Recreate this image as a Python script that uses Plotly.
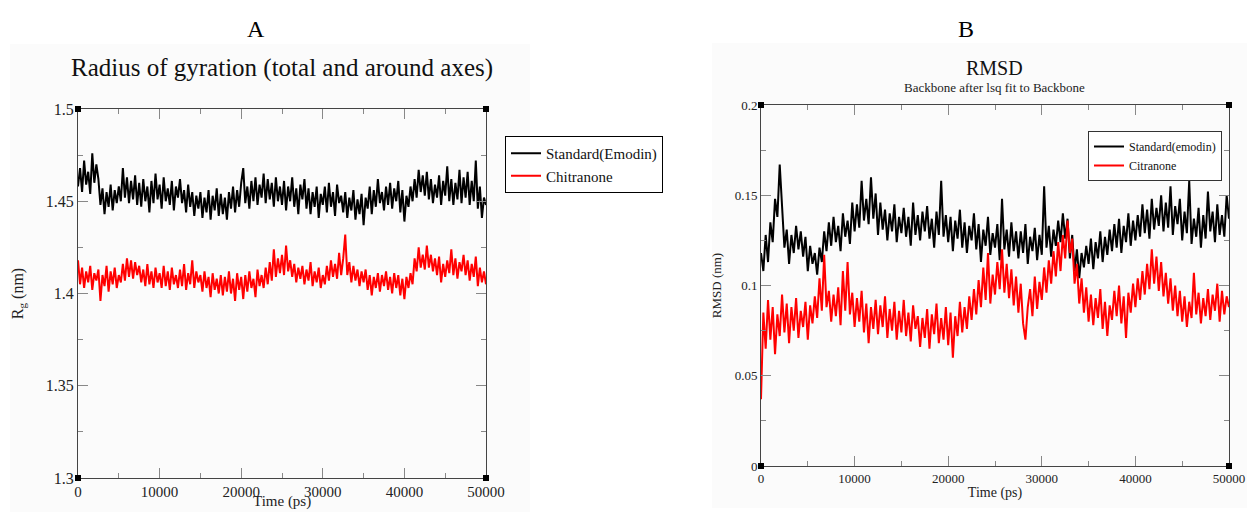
import plotly.graph_objects as go

# ---------------- data ----------------
time_ps = list(range(0, 50001, 250))

rg_standard = [
    1.458, 1.468, 1.455, 1.472, 1.459, 1.466, 1.454, 1.476, 1.460, 1.470,
    1.462, 1.448, 1.457, 1.443, 1.455, 1.447, 1.459, 1.445, 1.456, 1.449,
    1.458, 1.450, 1.468, 1.452, 1.463, 1.449, 1.461, 1.451, 1.464, 1.448,
    1.460, 1.447, 1.462, 1.450, 1.458, 1.444, 1.461, 1.449, 1.465, 1.451,
    1.459, 1.446, 1.463, 1.450, 1.457, 1.448, 1.461, 1.445, 1.458, 1.452,
    1.462, 1.449, 1.456, 1.444, 1.459, 1.447, 1.455, 1.442, 1.453, 1.446,
    1.455, 1.441, 1.452, 1.444, 1.456, 1.440, 1.453, 1.445, 1.457, 1.442,
    1.454, 1.443, 1.452, 1.440, 1.455, 1.446, 1.458, 1.444, 1.456, 1.447,
    1.460, 1.468, 1.449, 1.458, 1.446, 1.461, 1.450, 1.463, 1.448, 1.459,
    1.452, 1.465, 1.449, 1.462, 1.451, 1.460, 1.447, 1.463, 1.450, 1.458,
    1.448, 1.461, 1.445, 1.458, 1.450, 1.463, 1.447, 1.457, 1.443, 1.459,
    1.451, 1.462, 1.446, 1.457, 1.443, 1.455, 1.447, 1.458, 1.441, 1.454,
    1.448, 1.458, 1.444, 1.460, 1.447, 1.455, 1.442, 1.459, 1.449, 1.453,
    1.444, 1.455, 1.441, 1.452, 1.445, 1.456, 1.440, 1.451, 1.443, 1.454,
    1.437, 1.452, 1.446, 1.458, 1.443, 1.456, 1.447, 1.462, 1.449, 1.455,
    1.445, 1.458, 1.448, 1.460, 1.446, 1.457, 1.450, 1.461, 1.444, 1.456,
    1.439, 1.453, 1.447, 1.458, 1.450, 1.462, 1.452, 1.467, 1.455, 1.464,
    1.453, 1.466, 1.451, 1.462, 1.449, 1.459, 1.452, 1.464, 1.448, 1.461,
    1.453, 1.469, 1.450, 1.462, 1.448, 1.460, 1.451, 1.467, 1.449, 1.463,
    1.452, 1.466, 1.448, 1.461, 1.450, 1.472, 1.446, 1.458, 1.441, 1.452,
    1.448,
]

rg_chitranone = [
    1.418, 1.405, 1.414, 1.403, 1.412, 1.406, 1.415, 1.402, 1.411, 1.407,
    1.413, 1.396, 1.410, 1.404, 1.415, 1.401, 1.412, 1.405, 1.414, 1.403,
    1.410, 1.406, 1.416, 1.407, 1.419, 1.409, 1.418, 1.408, 1.417, 1.410,
    1.415, 1.406, 1.413, 1.404, 1.416, 1.405, 1.412, 1.403, 1.414, 1.406,
    1.411, 1.403, 1.415, 1.404, 1.412, 1.402, 1.414, 1.405, 1.410, 1.403,
    1.413, 1.404, 1.416, 1.402, 1.411, 1.405, 1.418, 1.403, 1.412, 1.406,
    1.410, 1.401, 1.412, 1.403, 1.409, 1.398, 1.411, 1.402, 1.408, 1.400,
    1.410, 1.399, 1.409, 1.401, 1.412, 1.400, 1.408, 1.396, 1.411, 1.402,
    1.409, 1.397, 1.410, 1.401, 1.412, 1.403, 1.408, 1.398, 1.413, 1.404,
    1.410, 1.403, 1.414, 1.405, 1.417, 1.407, 1.424, 1.409, 1.419, 1.411,
    1.421, 1.410, 1.426, 1.412, 1.418, 1.409, 1.416, 1.406, 1.414, 1.408,
    1.415, 1.405, 1.413, 1.407, 1.417, 1.404, 1.412, 1.406, 1.414, 1.403,
    1.410, 1.405, 1.415, 1.407, 1.418, 1.409, 1.416, 1.408, 1.422, 1.410,
    1.419, 1.432, 1.410, 1.417, 1.406, 1.415, 1.407, 1.413, 1.404, 1.412,
    1.406, 1.413, 1.402, 1.410, 1.399, 1.409, 1.403, 1.411, 1.401, 1.410,
    1.404, 1.412, 1.402, 1.409, 1.400, 1.411, 1.403, 1.410, 1.399, 1.408,
    1.397, 1.409, 1.403, 1.411, 1.405, 1.419, 1.412, 1.425, 1.414, 1.421,
    1.413, 1.426, 1.414, 1.421, 1.412, 1.419, 1.410, 1.420, 1.406, 1.416,
    1.409, 1.418, 1.411, 1.424, 1.410, 1.419, 1.408, 1.417, 1.412, 1.421,
    1.410, 1.418, 1.407, 1.416, 1.409, 1.420, 1.404, 1.414, 1.406, 1.412,
    1.405,
]

rmsd_standard = [
    0.118, 0.108, 0.128, 0.113, 0.135, 0.124, 0.148, 0.138, 0.167, 0.140,
    0.121, 0.131, 0.112, 0.128, 0.118, 0.133, 0.120, 0.130, 0.116, 0.127,
    0.108, 0.122, 0.112, 0.118, 0.106, 0.121, 0.113, 0.130, 0.119, 0.135,
    0.122, 0.138, 0.124, 0.133, 0.119, 0.140, 0.127, 0.136, 0.123, 0.146,
    0.130, 0.145, 0.132, 0.158, 0.136, 0.148, 0.134, 0.160, 0.137, 0.151,
    0.128, 0.146, 0.131, 0.142, 0.125, 0.140, 0.130, 0.145, 0.124, 0.138,
    0.129, 0.143, 0.127, 0.138, 0.122, 0.146, 0.128, 0.139, 0.125, 0.141,
    0.130, 0.144, 0.126, 0.137, 0.121, 0.141, 0.128, 0.158, 0.127, 0.139,
    0.124, 0.138, 0.119, 0.136, 0.126, 0.142, 0.121, 0.135, 0.118, 0.133,
    0.125, 0.140, 0.120, 0.134, 0.113, 0.131, 0.122, 0.138, 0.117, 0.129,
    0.121, 0.134, 0.114, 0.148, 0.120, 0.131, 0.116, 0.135, 0.119, 0.130,
    0.115, 0.130, 0.118, 0.134, 0.112, 0.127, 0.119, 0.132, 0.114, 0.128,
    0.117, 0.155, 0.121, 0.133, 0.116, 0.131, 0.122, 0.136, 0.124, 0.140,
    0.126, 0.137, 0.115, 0.128, 0.108, 0.120, 0.104, 0.118, 0.110, 0.122,
    0.112, 0.126, 0.109, 0.124, 0.115, 0.130, 0.113, 0.127, 0.117, 0.131,
    0.119, 0.134, 0.121, 0.137, 0.118, 0.133, 0.124, 0.140, 0.122, 0.136,
    0.125, 0.139, 0.127, 0.145, 0.129, 0.142, 0.126, 0.148, 0.131, 0.143,
    0.133, 0.150, 0.130, 0.146, 0.132, 0.155, 0.128, 0.144, 0.134, 0.148,
    0.125, 0.141, 0.129, 0.158, 0.123, 0.137, 0.127, 0.143, 0.121, 0.139,
    0.126, 0.152, 0.130, 0.141, 0.124, 0.145, 0.128, 0.139, 0.127, 0.150,
    0.137,
]

rmsd_citranone = [
    0.037, 0.085, 0.065, 0.092, 0.070, 0.088, 0.062, 0.084, 0.072, 0.095,
    0.074, 0.090, 0.068, 0.088, 0.075, 0.093, 0.071, 0.086, 0.077, 0.091,
    0.070, 0.089, 0.079, 0.094, 0.082, 0.104, 0.086, 0.117, 0.088, 0.097,
    0.080, 0.095, 0.083, 0.099, 0.078, 0.108, 0.086, 0.113, 0.084, 0.096,
    0.077, 0.093, 0.080, 0.097, 0.074, 0.090, 0.068, 0.088, 0.076, 0.092,
    0.073, 0.089, 0.077, 0.094, 0.071, 0.087, 0.075, 0.091, 0.070, 0.086,
    0.074, 0.092, 0.072, 0.085, 0.069, 0.089, 0.076, 0.083, 0.066, 0.082,
    0.071, 0.087, 0.065, 0.084, 0.073, 0.090, 0.068, 0.082, 0.070, 0.088,
    0.067, 0.085, 0.060, 0.083, 0.072, 0.091, 0.074, 0.088, 0.076, 0.094,
    0.081, 0.098, 0.084, 0.103, 0.088, 0.110, 0.092, 0.118, 0.090, 0.106,
    0.095, 0.113, 0.098, 0.120, 0.096, 0.112, 0.093, 0.109, 0.089, 0.105,
    0.085, 0.101, 0.079, 0.070, 0.088, 0.098, 0.083, 0.105, 0.087, 0.102,
    0.092, 0.110, 0.096, 0.114, 0.101, 0.119, 0.105, 0.124, 0.108, 0.128,
    0.115, 0.136, 0.118, 0.126, 0.101, 0.112, 0.090, 0.104, 0.085, 0.099,
    0.080, 0.095, 0.078, 0.093, 0.082, 0.098, 0.076, 0.091, 0.072, 0.089,
    0.081, 0.097, 0.083, 0.100, 0.079, 0.094, 0.071, 0.096, 0.085, 0.101,
    0.088, 0.104, 0.092, 0.108, 0.095, 0.112, 0.098, 0.120, 0.101, 0.116,
    0.097, 0.113, 0.094, 0.107, 0.090, 0.104, 0.086, 0.100, 0.083, 0.097,
    0.080, 0.094, 0.077, 0.091, 0.082, 0.107, 0.084, 0.096, 0.079, 0.093,
    0.083, 0.098, 0.081, 0.095, 0.086, 0.101, 0.080, 0.097, 0.084, 0.094,
    0.088,
]

# ---------------- figure ----------------
W, H = 1247, 512
SERIF = "Liberation Serif, Times New Roman, serif"

def px_x(p):
    return p / W

def px_y(p):
    return 1 - p / H

fig = go.Figure()

LW = 2.0
fig.add_trace(go.Scatter(x=time_ps, y=rg_standard, mode="lines", name="Standard(Emodin)",
                         line=dict(color="black", width=LW), xaxis="x", yaxis="y", legend="legend"))
fig.add_trace(go.Scatter(x=time_ps, y=rg_chitranone, mode="lines", name="Chitranone",
                         line=dict(color="#ff0000", width=LW), xaxis="x", yaxis="y", legend="legend"))
fig.add_trace(go.Scatter(x=time_ps, y=rmsd_standard, mode="lines", name="Standard(emodin)",
                         line=dict(color="black", width=LW), xaxis="x2", yaxis="y2", legend="legend2"))
fig.add_trace(go.Scatter(x=time_ps, y=rmsd_citranone, mode="lines", name="Citranone",
                         line=dict(color="#ff0000", width=LW), xaxis="x2", yaxis="y2", legend="legend2"))

def axis_common(size, ticklen, minor_dtick, dtick):
    return dict(
        showline=True, linecolor="#444", linewidth=1, mirror="ticks",
        ticks="inside", ticklen=ticklen, tickcolor="#888", tickwidth=1,
        showgrid=False, zeroline=False, dtick=dtick, automargin=False,
        minor=dict(ticks="inside", ticklen=int(ticklen * 0.55), tickcolor="#888", dtick=minor_dtick, showgrid=False),
        tickfont=dict(family=SERIF, size=size, color="#222"),
    )

xa = axis_common(15, 10, 5000, 10000)
xa.update(domain=[px_x(78), px_x(486)], range=[0, 50000], tickformat="d", anchor="y")
ya = axis_common(16, 10, 0.025, 0.05)
ya.update(domain=[px_y(478), px_y(109)], range=[1.3, 1.5], anchor="x",
          title=dict(text="R<sub>g</sub> (nm)", font=dict(family=SERIF, size=16, color="#222"), standoff=18))

xb = axis_common(13, 10, 5000, 10000)
xb.update(domain=[px_x(761), px_x(1229)], range=[0, 50000], tickformat="d", anchor="y2",
          title=dict(text="Time (ps)", font=dict(family=SERIF, size=14, color="#222"), standoff=2))
yb = axis_common(13, 10, 0.025, 0.05)
yb.update(domain=[px_y(466), px_y(105)], range=[0, 0.2], anchor="x2",
          title=dict(text="RMSD (nm)", font=dict(family=SERIF, size=13, color="#222"), standoff=10))

shapes = [
    dict(type="rect", xref="paper", yref="paper", x0=px_x(10), x1=px_x(530), y0=0, y1=px_y(44),
         fillcolor="#fbfbfb", line=dict(width=0), layer="below"),
    dict(type="rect", xref="paper", yref="paper", x0=px_x(712), x1=1, y0=px_y(508), y1=px_y(43),
         fillcolor="#fbfbfb", line=dict(width=0), layer="below"),
]
for xr, yr in (("x", "y"), ("x2", "y2")):
    for cx in (0, 1):
        for cy in (0, 1):
            shapes.append(dict(type="rect", xref=f"{xr} domain", yref=f"{yr} domain",
                               xsizemode="pixel", ysizemode="pixel", xanchor=cx, yanchor=cy,
                               x0=-3, x1=3, y0=-3, y1=3, fillcolor="black", line=dict(width=0)))

def label(text, x, y, size, color="#111", yanchor="middle"):
    return dict(text=text, x=px_x(x), y=px_y(y), xref="paper", yref="paper", showarrow=False,
                xanchor="center", yanchor=yanchor, font=dict(family=SERIF, size=size, color=color))

annotations = [
    label("A", 256, 29, 24, "black"),
    label("B", 966, 29, 24, "black"),
    label("Radius of gyration (total and around axes)", 282, 68, 25),
    label("RMSD", 995, 68, 20),
    label("Backbone after lsq fit to Backbone", 995, 87, 13, "#222"),
    label("Time (ps)", 282, 512, 15, "#222", yanchor="bottom"),
]

fig.update_layout(
    width=W, height=H, margin=dict(l=0, r=0, t=0, b=0, autoexpand=False),
    paper_bgcolor="white", plot_bgcolor="white",
    xaxis=xa, yaxis=ya, xaxis2=xb, yaxis2=yb,
    shapes=shapes, annotations=annotations,
    legend=dict(x=px_x(505), y=px_y(136), xanchor="left", yanchor="top",
                bordercolor="black", borderwidth=1, bgcolor="white", itemwidth=30,
                entrywidth=172, entrywidthmode="pixels",
                font=dict(family=SERIF, size=15, color="#111"), tracegroupgap=0),
    legend2=dict(x=px_x(1088), y=px_y(131), xanchor="left", yanchor="top",
                 bordercolor="#333", borderwidth=1, bgcolor="white", itemwidth=30,
                 font=dict(family=SERIF, size=12, color="#111"), tracegroupgap=0),
)

fig.write_html("out.html")
